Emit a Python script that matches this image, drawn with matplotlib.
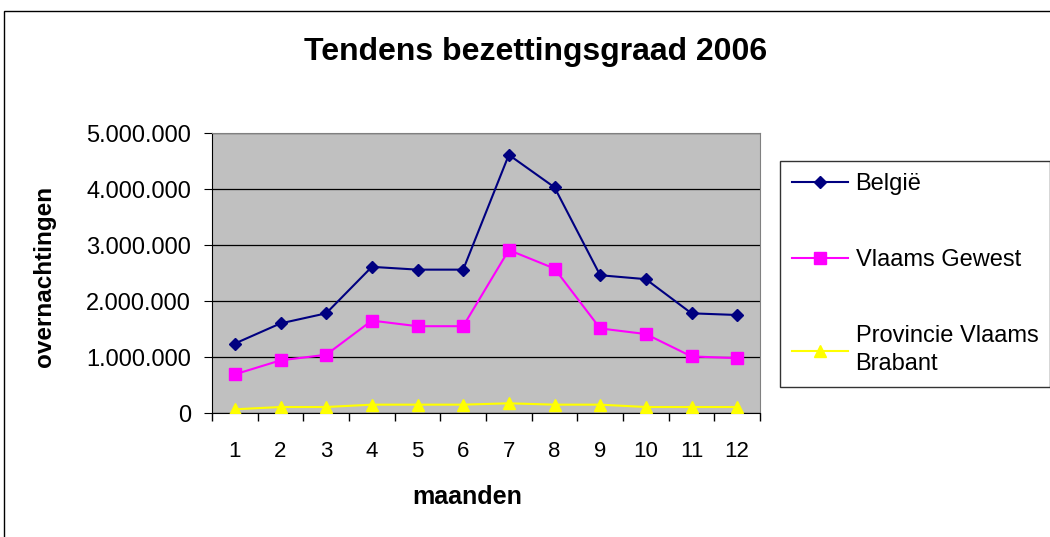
import matplotlib
matplotlib.use("Agg")
import matplotlib.pyplot as plt
from matplotlib.patches import Rectangle
from matplotlib.ticker import FuncFormatter, FixedLocator

plt.rcParams['font.family'] = ['Liberation Sans', 'DejaVu Sans']

months = [1, 2, 3, 4, 5, 6, 7, 8, 9, 10, 11, 12]
belgie = [1240000, 1600000, 1780000, 2610000, 2560000, 2560000, 4610000, 4030000, 2460000, 2390000, 1780000, 1750000]
vlaams_gewest = [690000, 940000, 1040000, 1650000, 1550000, 1550000, 2910000, 2580000, 1510000, 1410000, 1010000, 980000]
prov_vl_brabant = [66000, 107000, 107000, 149000, 149000, 149000, 173000, 149000, 149000, 107000, 107000, 107000]
series_names = ["België", "Vlaams Gewest", "Provincie Vlaams\nBrabant"]

W, H = 1050, 537
fig = plt.figure(figsize=(W / 100, H / 100), dpi=100)
fig.patch.set_facecolor("white")

# outer chart border
fig.add_artist(Rectangle((3.5 / W, -0.1), 1.2, 1 - 11 / H + 0.1, transform=fig.transFigure,
                         fill=False, edgecolor="black", linewidth=1.0))

ax = fig.add_axes([212 / W, 1 - 413 / H, (760 - 212) / W, (413 - 133) / H])
ax.set_facecolor("#C0C0C0")

ax.plot(months, belgie, color="#000080", marker="D", markersize=6.5, linewidth=1.5,
        label=series_names[0], zorder=3)
ax.plot(months, vlaams_gewest, color="#FF00FF", marker="s", markersize=8, linewidth=1.5,
        label=series_names[1], zorder=3)
ax.plot(months, prov_vl_brabant, color="#FFFF00", marker="^", markersize=9, linewidth=1.5,
        label=series_names[2], zorder=3)

ax.set_xlim(0.5, 12.5)
ax.set_ylim(0, 5000000)
ax.set_yticks([0, 1000000, 2000000, 3000000, 4000000, 5000000])
ax.yaxis.set_major_formatter(FuncFormatter(lambda v, p: f"{int(v):,}".replace(",", ".")))
ax.set_xticks(months)
ax.set_xticklabels([str(m) for m in months])
ax.xaxis.set_minor_locator(FixedLocator([m + 0.5 for m in range(0, 13)]))
ax.tick_params(axis="x", which="major", length=0, labelsize=16, pad=20)
ax.tick_params(axis="x", which="minor", length=6, direction="out", width=1)
ax.tick_params(axis="y", which="major", length=6, direction="out", labelsize=17, pad=9)

ax.grid(axis="y", color="black", linewidth=0.9)
ax.set_axisbelow(True)
for s in ["top", "right"]:
    ax.spines[s].set_color("#808080")
for s in ["left", "bottom"]:
    ax.spines[s].set_color("black")

fig.text(536 / W, 1 - 60 / H, "Tendens bezettingsgraad 2006", fontsize=23, fontweight="bold",
         ha="center", va="baseline")
fig.text(45 / W, 1 - 276 / H, "overnachtingen", fontsize=17.5, fontweight="bold",
         rotation=90, ha="center", va="center")
fig.text(467 / W, 1 - 497 / H, "maanden", fontsize=18, fontweight="bold",
         ha="center", va="center")

leg = fig.legend(loc="upper left", bbox_to_anchor=(780 / W, 1 - 161 / H), fontsize=17,
                 frameon=True, fancybox=False, edgecolor="black", labelspacing=2.3,
                 handlelength=2.4, borderpad=0.5, handletextpad=0.3, borderaxespad=0)
leg.get_frame().set_linewidth(1)
for t in leg.get_texts():
    t.set_linespacing(1.35)

fig.savefig("out.png", dpi=100)
